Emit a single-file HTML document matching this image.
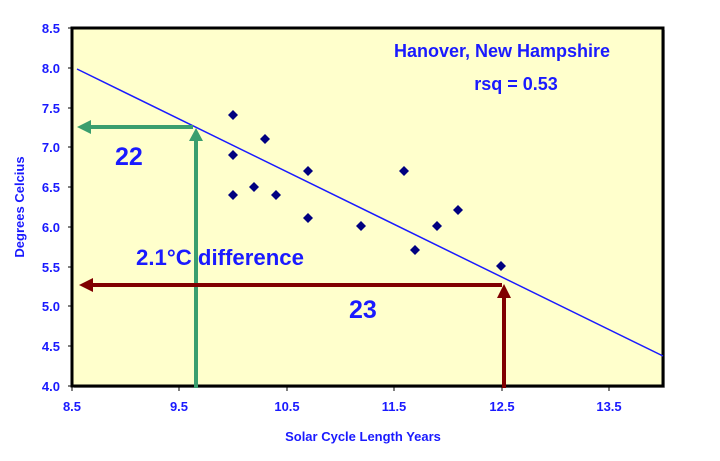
<!DOCTYPE html>
<html><head><meta charset="utf-8"><style>
html,body{margin:0;padding:0;background:#fff;}
svg{display:block;font-family:"Liberation Sans",Arial,sans-serif;}
</style></head><body>
<svg width="720" height="461" viewBox="0 0 720 461" xmlns="http://www.w3.org/2000/svg">
<rect x="74" y="30" width="591" height="358" fill="#808080" opacity="0.5"/>
<rect x="72" y="28" width="591" height="358" fill="#ffffcc" stroke="#000" stroke-width="3"/>
<g stroke="#000" stroke-width="1">
<line x1="68" y1="28" x2="72" y2="28"/><line x1="68" y1="68" x2="72" y2="68"/><line x1="68" y1="108" x2="72" y2="108"/><line x1="68" y1="147" x2="72" y2="147"/><line x1="68" y1="187" x2="72" y2="187"/><line x1="68" y1="227" x2="72" y2="227"/><line x1="68" y1="267" x2="72" y2="267"/><line x1="68" y1="306" x2="72" y2="306"/><line x1="68" y1="346" x2="72" y2="346"/><line x1="68" y1="386" x2="72" y2="386"/>
<line x1="72" y1="386" x2="72" y2="391"/><line x1="179" y1="386" x2="179" y2="391"/><line x1="287" y1="386" x2="287" y2="391"/><line x1="394" y1="386" x2="394" y2="391"/><line x1="502" y1="386" x2="502" y2="391"/><line x1="609" y1="386" x2="609" y2="391"/>
</g>
<g fill="#1a1aff" font-size="13" font-weight="bold" text-anchor="end">
<text x="60" y="33">8.5</text><text x="60" y="73">8.0</text><text x="60" y="113">7.5</text><text x="60" y="152">7.0</text><text x="60" y="192">6.5</text><text x="60" y="232">6.0</text><text x="60" y="272">5.5</text><text x="60" y="311">5.0</text><text x="60" y="351">4.5</text><text x="60" y="391">4.0</text>
</g>
<g fill="#1a1aff" font-size="13" font-weight="bold" text-anchor="middle">
<text x="72" y="411">8.5</text><text x="179" y="411">9.5</text><text x="287" y="411">10.5</text><text x="394" y="411">11.5</text><text x="502" y="411">12.5</text><text x="609" y="411">13.5</text>
<text x="363" y="441" font-size="13">Solar Cycle Length Years</text>
<text transform="translate(24,207) rotate(-90)" font-size="13">Degrees Celcius</text>
<text x="502" y="57" font-size="18">Hanover, New Hampshire</text>
<text x="516" y="90" font-size="18">rsq = 0.53</text>
</g>
<line x1="77" y1="69" x2="663" y2="356" stroke="#1a1aff" stroke-width="1.5"/>
<g fill="#000080">
<path d="M233,110l5,5l-5,5l-5-5z"/><path d="M233,150l5,5l-5,5l-5-5z"/><path d="M233,190l5,5l-5,5l-5-5z"/>
<path d="M254,182l5,5l-5,5l-5-5z"/><path d="M265,134l5,5l-5,5l-5-5z"/><path d="M276,190l5,5l-5,5l-5-5z"/>
<path d="M308,166l5,5l-5,5l-5-5z"/><path d="M308,213l5,5l-5,5l-5-5z"/><path d="M361,221l5,5l-5,5l-5-5z"/>
<path d="M404,166l5,5l-5,5l-5-5z"/><path d="M415,245l5,5l-5,5l-5-5z"/><path d="M437,221l5,5l-5,5l-5-5z"/>
<path d="M458,205l5,5l-5,5l-5-5z"/><path d="M501,261l5,5l-5,5l-5-5z"/>
</g>
<g fill="none" stroke-width="4">
<line x1="196" y1="388" x2="196" y2="140" stroke="#3a9e6e"/>
<line x1="193" y1="127" x2="90" y2="127" stroke="#3a9e6e"/>
<line x1="504" y1="388" x2="504" y2="297" stroke="#800000"/>
<line x1="502" y1="285" x2="92" y2="285" stroke="#800000"/>
</g>
<path d="M196,128 l-7,13 h14z" fill="#3a9e6e"/>
<path d="M77,127 l14,-7 v14z" fill="#3a9e6e"/>
<path d="M504,284 l-7,14 h14z" fill="#800000"/>
<path d="M79,285 l14,-7 v14z" fill="#800000"/>
<g fill="#1a1aff" font-weight="bold">
<text x="115" y="165" font-size="25">22</text>
<text x="349" y="318" font-size="25">23</text>
<text x="136" y="265" font-size="22" textLength="168" lengthAdjust="spacingAndGlyphs">2.1°C difference</text>
</g>
</svg>
</body></html>
